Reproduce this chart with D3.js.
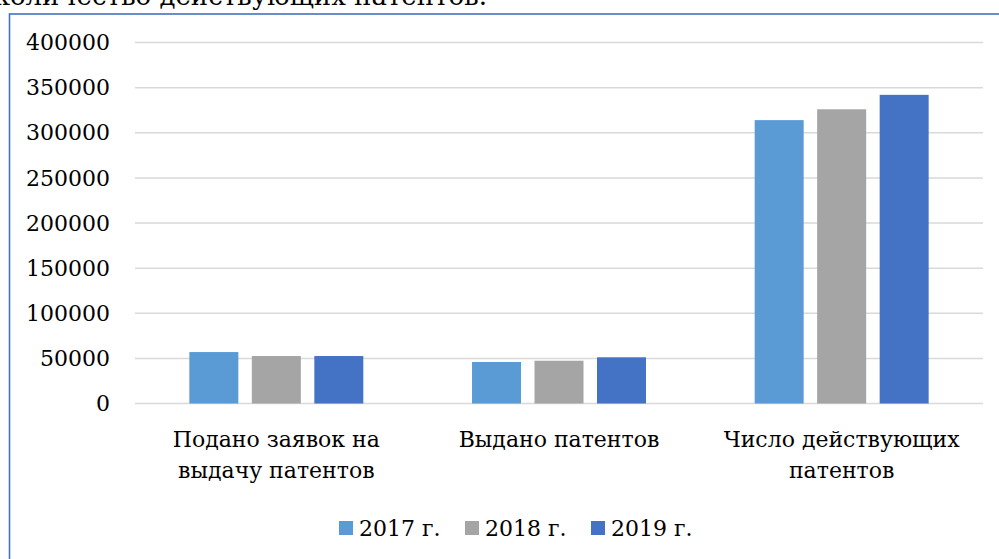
<!DOCTYPE html>
<html>
<head>
<meta charset="utf-8">
<script src="https://cdn.jsdelivr.net/npm/d3@7"></script>
<style>
  html, body { margin: 0; padding: 0; background: #fff; overflow: hidden; }
</style>
</head>
<body>
<svg id="chart" width="999" height="559"></svg>
<script>
// data
const categories = [["Подано заявок на", "выдачу патентов"], ["Выдано патентов"], ["Число действующих", "патентов"]];
const years = ["2017 г.", "2018 г.", "2019 г."];
const values2017 = [57000, 46000, 314000];
const values2018 = [52600, 47400, 326000];
const values2019 = [52600, 51200, 342000];
const yTicks = [0, 50000, 100000, 150000, 200000, 250000, 300000, 350000, 400000];
const colors = ["#5b9bd5", "#a5a5a5", "#4472c4"];

const series = [values2017, values2018, values2019];
const serif = "DejaVu Serif";

const svg = d3.select("#chart");
const width = +svg.attr("width"), height = +svg.attr("height");

svg.append("rect").attr("width", width).attr("height", height).attr("fill", "#fff");

// caption text cut off above the frame
svg.append("text")
  .attr("x", 487).attr("y", 5)
  .attr("text-anchor", "end")
  .attr("font-family", serif)
  .attr("font-size", 26)
  .attr("fill", "#000")
  .text("количество действующих патентов.");

// frame of the chart area
svg.append("rect")
  .attr("x", 9.5).attr("y", 14)
  .attr("width", 1200).attr("height", 1000)
  .attr("fill", "none")
  .attr("stroke", "#4472c4")
  .attr("stroke-width", 1.6);

const x0 = d3.scaleBand().domain(d3.range(categories.length)).range([135, 983]);
const groupW = x0.bandwidth() * 0.711;
const x1 = d3.scaleBand().domain(d3.range(years.length))
  .range([(x0.bandwidth() - groupW) / 2, (x0.bandwidth() + groupW) / 2])
  .padding(0.216);
const y = d3.scaleLinear().domain([0, 400000]).range([403.5, 42.5]);

// gridlines
svg.append("g").selectAll("line")
  .data(yTicks).join("line")
  .attr("x1", 135).attr("x2", 983)
  .attr("y1", d => y(d)).attr("y2", d => y(d))
  .attr("stroke", "#d9d9d9")
  .attr("stroke-width", 1.5);

// y axis labels
svg.append("g").selectAll("text")
  .data(yTicks).join("text")
  .attr("x", 110)
  .attr("y", d => y(d))
  .attr("dy", "0.35em")
  .attr("text-anchor", "end")
  .attr("font-family", serif)
  .attr("font-size", 22)
  .attr("fill", "#000")
  .text(d => d);

// bars
const groups = svg.append("g").selectAll("g")
  .data(categories.map((c, i) => i)).join("g")
  .attr("transform", i => `translate(${x0(i)},0)`);

groups.selectAll("rect")
  .data(i => series.map((s, k) => ({ k, v: s[i] }))).join("rect")
  .attr("x", d => x1(d.k))
  .attr("width", x1.bandwidth())
  .attr("y", d => y(d.v))
  .attr("height", d => y(0) - y(d.v))
  .attr("fill", d => colors[d.k]);

// category labels
const catLabels = svg.append("g").selectAll("text")
  .data(categories).join("text")
  .attr("x", (d, i) => x0(i) + x0.bandwidth() / 2)
  .attr("y", 447)
  .attr("text-anchor", "middle")
  .attr("font-family", serif)
  .attr("font-size", 22)
  .attr("fill", "#000");

catLabels.selectAll("tspan")
  .data(d => d).join("tspan")
  .attr("x", function () { return this.parentNode.getAttribute("x"); })
  .attr("dy", (d, j) => j === 0 ? 0 : 31)
  .text(d => d);

// legend
const legend = svg.append("g").selectAll("g")
  .data(years).join("g")
  .attr("transform", (d, i) => `translate(${339 + i * 126},528)`);

legend.append("rect")
  .attr("x", 0).attr("y", -7)
  .attr("width", 14).attr("height", 14)
  .attr("fill", (d, i) => colors[i]);

legend.append("text")
  .attr("x", 20).attr("y", 0)
  .attr("dy", "0.35em")
  .attr("font-family", serif)
  .attr("font-size", 22)
  .attr("fill", "#000")
  .text(d => d);
</script>
</body>
</html>
